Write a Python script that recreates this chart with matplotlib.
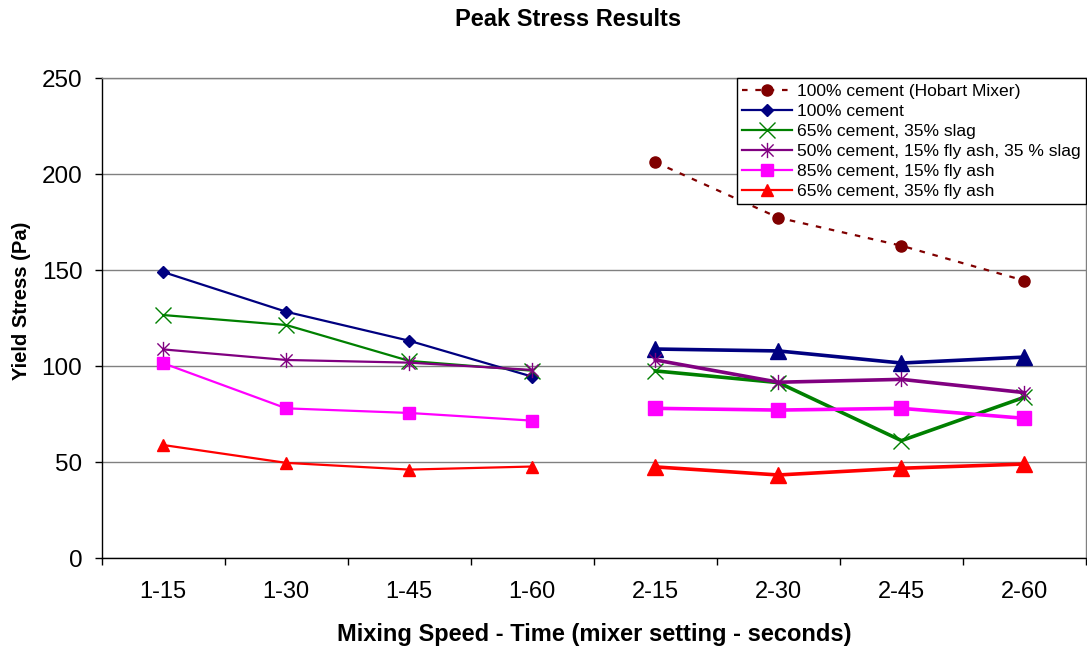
import numpy as np
import matplotlib
matplotlib.use("Agg")
import matplotlib.pyplot as plt
from matplotlib.path import Path
from matplotlib.lines import Line2D

plt.rcParams['font.family'] = ['Liberation Sans', 'DejaVu Sans']

categories = ["1-15", "1-30", "1-45", "1-60", "2-15", "2-30", "2-45", "2-60"]

# mixer setting 1 (first four categories)
cement_100_s1 = [149.1, 128.4, 113.3, 94.6]
slag_35_s1 = [126.7, 121.5, 102.8, 97.7]
fa15_slag35_s1 = [108.8, 103.3, 101.9, 98.1]
fa_15_s1 = [101.6, 78.1, 75.7, 71.7]
fa_35_s1 = [59.0, 49.7, 46.2, 47.8]

# mixer setting 2 (last four categories)
hobart_100 = [206.3, 177.4, 162.8, 144.6]
cement_100_s2 = [109.0, 108.0, 101.7, 104.8]
slag_35_s2 = [97.6, 91.5, 61.3, 83.9]
fa15_slag35_s2 = [103.3, 91.7, 93.2, 86.3]
fa_15_s2 = [78.1, 77.2, 78.1, 72.9]
fa_35_s2 = [47.6, 43.4, 46.9, 49.1]

labels = ["100% cement (Hobart Mixer)", "100% cement", "65% cement, 35% slag",
          "50% cement, 15% fly ash, 35 % slag", "85% cement, 15% fly ash",
          "65% cement, 35% fly ash"]

# Excel-style asterisk: an "x" crossed by a vertical bar
star_path = Path([(-1, -1), (1, 1), (-1, 1), (1, -1), (0, -1.25), (0, 1.25)],
                 [Path.MOVETO, Path.LINETO, Path.MOVETO, Path.LINETO,
                  Path.MOVETO, Path.LINETO])

W, H = 1087, 651
fig = plt.figure(figsize=(W / 100, H / 100), dpi=100)
ax = fig.add_axes([101.7 / W, 1 - 558.3 / H, (1086 - 101.7) / W, (558.3 - 78.3) / H])

x1 = np.arange(0, 4)
x2 = np.arange(4, 8)

navy, green, purple, magenta, red, maroon = "#000080", "#008000", "#800080", "#FF00FF", "#FF0000", "#800000"

# first setting: thinner lines
ax.plot(x1, cement_100_s1, color=navy, lw=1.6, marker="D", ms=6.5, zorder=3)
ax.plot(x1, slag_35_s1, color=green, lw=1.6, marker="x", ms=11, mew=1.0, zorder=3)
ax.plot(x1, fa15_slag35_s1, color=purple, lw=1.6, marker=star_path, ms=11, mew=1.0,
        mfc="none", mec=purple, zorder=3)
ax.plot(x1, fa_15_s1, color=magenta, lw=1.6, marker="s", ms=8.5, zorder=3)
ax.plot(x1, fa_35_s1, color=red, lw=1.6, marker="^", ms=9, zorder=3)

# second setting: heavier lines
ax.plot(x2, hobart_100, color=maroon, lw=1.6, ls=(0, (2.5, 3.5)), marker="o", ms=8, zorder=3)
ax.plot(x2, cement_100_s2, color=navy, lw=2.6, marker="^", ms=11, zorder=3)
ax.plot(x2, slag_35_s2, color=green, lw=2.6, marker="x", ms=12, mew=1.0, zorder=3)
ax.plot(x2, fa15_slag35_s2, color=purple, lw=2.6, marker=star_path, ms=11, mew=1.0,
        mfc="none", mec=purple, zorder=3)
ax.plot(x2, fa_15_s2, color=magenta, lw=2.6, marker="s", ms=10, zorder=3)
ax.plot(x2, fa_35_s2, color=red, lw=2.6, marker="^", ms=11, zorder=3)

ax.set_xlim(-0.5, 7.5)
ax.set_ylim(0, 250)
ax.set_yticks(np.arange(0, 251, 50))
ax.set_xticks(np.arange(8))
ax.set_xticklabels(categories)
ax.set_xticks(np.arange(-0.5, 8, 1), minor=True)
ax.tick_params(axis="x", which="major", length=0, pad=16, labelsize=17)
ax.tick_params(axis="x", which="minor", length=5, width=1, direction="out")
ax.tick_params(axis="y", length=5, width=1, direction="out", pad=9, labelsize=17.5)

ax.yaxis.grid(True, color="#808080", lw=1)
ax.set_axisbelow(True)
for side in ("left", "bottom"):
    ax.spines[side].set_color("black")
    ax.spines[side].set_linewidth(1)
ax.spines["top"].set_color("#808080")
ax.spines["right"].set_color("#808080")
ax.spines["top"].set_linewidth(1)
ax.spines["right"].set_linewidth(1)

handles = [
    Line2D([], [], color=maroon, lw=1.6, ls=(0, (2.5, 3.5)), marker="o", ms=8),
    Line2D([], [], color=navy, lw=1.6, marker="D", ms=6.5),
    Line2D([], [], color=green, lw=1.6, marker="x", ms=11, mew=1.0),
    Line2D([], [], color=purple, lw=1.6, marker=star_path, ms=11, mew=1.0, mfc="none", mec=purple),
    Line2D([], [], color=magenta, lw=1.6, marker="s", ms=8.5),
    Line2D([], [], color=red, lw=1.6, marker="^", ms=9),
]
leg = ax.legend(handles, labels, loc="upper right", bbox_to_anchor=(1.0, 1.0),
                borderaxespad=0, fontsize=12.6, handlelength=2.85, handletextpad=0.3,
                labelspacing=0.27, borderpad=0.3, fancybox=False, framealpha=1,
                edgecolor="black")
leg.get_frame().set_linewidth(1)

fig.text(568 / W, 1 - 19 / H, "Peak Stress Results", ha="center", va="center",
         fontsize=17, fontweight="bold")
fig.text(594 / W, 1 - 634 / H, "Mixing Speed - Time (mixer setting - seconds)",
         ha="center", va="center", fontsize=17, fontweight="bold")
fig.text(22 / W, 1 - 301 / H, "Yield Stress (Pa)", ha="center", va="center",
         rotation=90, fontsize=14.5, fontweight="bold")

fig.savefig("out.png", dpi=100)
